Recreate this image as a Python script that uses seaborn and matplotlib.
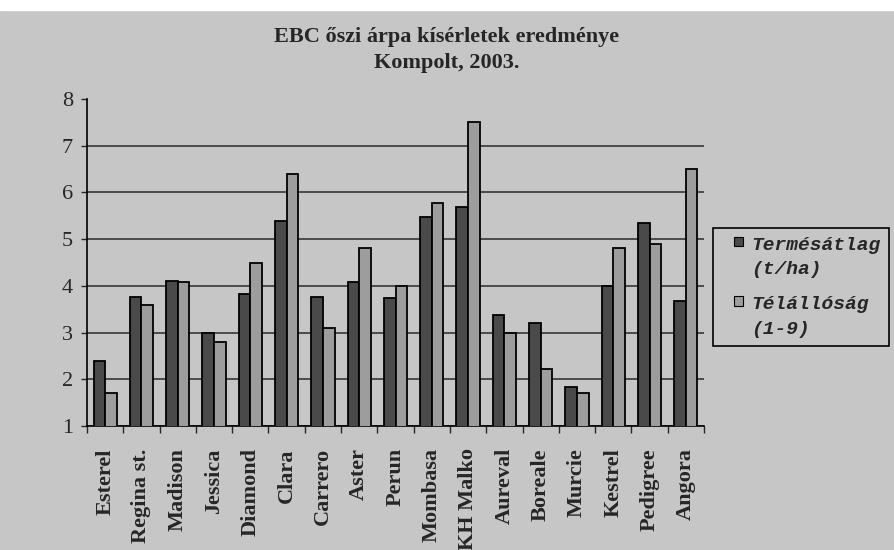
import pandas as pd
import matplotlib.pyplot as plt
import seaborn as sns
from matplotlib.patches import Rectangle, Patch
from matplotlib.ticker import FixedLocator
from matplotlib.legend_handler import HandlerPatch

varieties = ["Esterel", "Regina st.", "Madison", "Jessica", "Diamond", "Clara",
             "Carrero", "Aster", "Perun", "Mombasa", "KH Malko", "Aureval",
             "Boreale", "Murcie", "Kestrel", "Pedigree", "Angora"]
termesatlag = [2.39, 3.77, 4.11, 2.99, 3.83, 5.39, 3.76, 4.08, 3.74, 5.48,
               5.68, 3.37, 3.2, 1.83, 4.0, 5.35, 3.68]
telallosag = [1.7, 3.59, 4.09, 2.8, 4.5, 6.39, 3.1, 4.8, 4.0, 5.78,
              7.5, 3.0, 2.21, 1.71, 4.8, 4.9, 6.5]
series = ["Termésátlag\n(t/ha)", "Télállóság\n(1-9)"]
yticks = [1, 2, 3, 4, 5, 6, 7, 8]

bg = "#c6c6c6"
colors = ["#4a4a4a", "#9d9d9d"]

df = pd.DataFrame({
    "fajta": varieties * 2,
    "sorozat": [series[0]] * len(varieties) + [series[1]] * len(varieties),
    "ertek": termesatlag + telallosag,
})


def small_square(legend, orig_handle, xdescent, ydescent, width, height, fontsize):
    # little square at the right of the handle box, level with the first text line
    s = 0.48 * fontsize
    return Rectangle((width - s - xdescent, -ydescent + (height - s) / 2 + 0.8 * fontsize), s, s)


sns.set_style("white")
plt.rcParams["font.family"] = ["Liberation Serif", "DejaVu Serif"]

fig = plt.figure(figsize=(8.94, 5.5), dpi=100, facecolor=bg)
fig.patches.append(Rectangle((0, 1 - 10 / 550), 1, 10 / 550, color="white",
                             transform=fig.transFigure, zorder=0))
ax = fig.add_axes([87 / 894, 1 - 426 / 550, 617 / 894, 327 / 550])
ax.set_facecolor(bg)

sns.barplot(data=df, x="fajta", y="ertek", hue="sorozat", order=varieties,
            hue_order=series, palette=colors, width=0.64, edgecolor="black",
            linewidth=1.3, ax=ax, legend=False, zorder=3)

ax.set_ylim(1, 8)
ax.set_xlim(-0.5, len(varieties) - 0.5)
ax.set_yticks(yticks)
ax.yaxis.grid(True, color="#2a2a2a", linewidth=1.1, zorder=1)
ax.set_axisbelow(True)
ax.get_ygridlines()[-1].set_visible(False)

for s in ["top", "right"]:
    ax.spines[s].set_visible(False)
for s in ["left", "bottom"]:
    ax.spines[s].set_color("black")
    ax.spines[s].set_linewidth(1.2)

ax.set_xlabel("")
ax.set_ylabel("")
ax.tick_params(axis="y", length=4, width=1, pad=6, labelsize=16, left=True)
ax.tick_params(axis="x", which="major", length=0, pad=16)
ax.xaxis.set_minor_locator(FixedLocator([i - 0.5 for i in range(len(varieties) + 1)]))
ax.tick_params(axis="x", which="minor", length=5, width=1, bottom=True,
               direction="out")
ax.set_xticks(range(len(varieties)))
ax.set_xticklabels(varieties, rotation=90, fontsize=16, fontweight="bold",
                   va="top", ha="center")

fig.text(0.5, 1 - 42 / 550, "EBC őszi árpa kísérletek eredménye",
         ha="center", va="baseline", fontsize=16, fontweight="bold")
fig.text(0.5, 1 - 68 / 550, "Kompolt, 2003.",
         ha="center", va="baseline", fontsize=16, fontweight="bold")

handles = [Patch(facecolor=c, edgecolor="black", linewidth=0.8) for c in colors]
leg = fig.legend(handles, series, loc="upper left",
                 bbox_to_anchor=(713 / 894, 1 - 228 / 550),
                 bbox_transform=fig.transFigure, borderaxespad=0,
                 frameon=True, fancybox=False,
                 borderpad=0.45, labelspacing=0.95, handlelength=1.1,
                 handleheight=0.7, handletextpad=0.4,
                 handler_map={Patch: HandlerPatch(patch_func=small_square)},
                 prop={"family": "Liberation Mono", "weight": "bold",
                       "style": "italic", "size": 14})
for t in leg.get_texts():
    t.set_linespacing(1.55)
leg.get_frame().set_facecolor(bg)
leg.get_frame().set_edgecolor("black")
leg.get_frame().set_linewidth(1.2)
leg.get_frame().set_alpha(1)

fig.savefig("out.png", dpi=100, facecolor=fig.get_facecolor())
